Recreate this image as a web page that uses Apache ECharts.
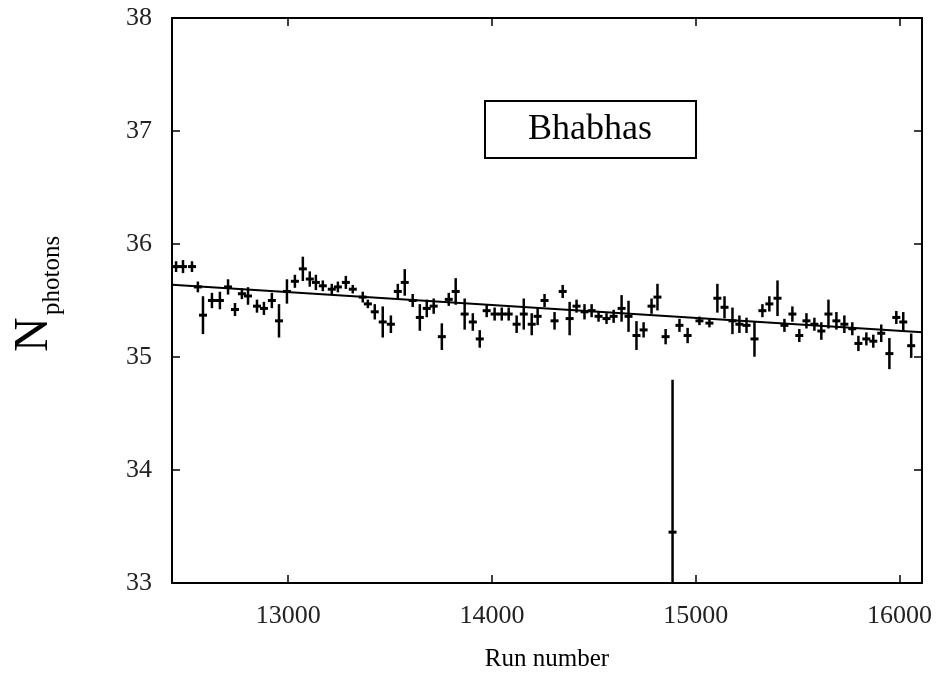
<!DOCTYPE html>
<html>
<head>
<meta charset="utf-8">
<script src="https://cdn.jsdelivr.net/npm/echarts@6/dist/echarts.min.js"></script>
<style>
  html, body { margin: 0; padding: 0; background: #fff; }
  #main { width: 943px; height: 677px; }
</style>
</head>
<body>
<div id="main"></div>
<script>
// run numbers, mean photon count and its error
var runs = [12450, 12484, 12528, 12557, 12582, 12626, 12665, 12705, 12739, 12773,
  12803, 12847, 12881, 12920, 12955, 12994, 13033, 13072, 13106, 13136,
  13170, 13214, 13244, 13283, 13317, 13366, 13391, 13425, 13464, 13504,
  13538, 13572, 13611, 13646, 13680, 13714, 13754, 13788, 13822, 13866,
  13906, 13940, 13974, 14013, 14048, 14082, 14121, 14156, 14195, 14224,
  14258, 14307, 14347, 14381, 14415, 14454, 14489, 14523, 14562, 14597,
  14636, 14670, 14709, 14744, 14783, 14812, 14852, 14886, 14920, 14960,
  15018, 15067, 15106, 15141, 15180, 15214, 15249, 15288, 15327, 15361,
  15401, 15435, 15474, 15508, 15543, 15582, 15616, 15651, 15690, 15729,
  15768, 15798, 15837, 15871, 15910, 15950, 15984, 16018, 16057];
var nPhotons = [35.80, 35.80, 35.80, 35.62, 35.37, 35.50, 35.50, 35.62, 35.42, 35.56,
  35.54, 35.45, 35.43, 35.50, 35.32, 35.58, 35.67, 35.78, 35.69, 35.66,
  35.63, 35.60, 35.62, 35.66, 35.60, 35.53, 35.47, 35.40, 35.31, 35.29,
  35.58, 35.66, 35.50, 35.35, 35.43, 35.45, 35.18, 35.51, 35.58, 35.38,
  35.31, 35.16, 35.41, 35.38, 35.38, 35.38, 35.29, 35.38, 35.29, 35.36,
  35.50, 35.32, 35.58, 35.34, 35.45, 35.40, 35.41, 35.36, 35.34, 35.36,
  35.43, 35.36, 35.19, 35.24, 35.45, 35.53, 35.18, 33.45, 35.28, 35.19,
  35.32, 35.30, 35.52, 35.44, 35.32, 35.29, 35.28, 35.16, 35.41, 35.47,
  35.52, 35.28, 35.38, 35.19, 35.32, 35.29, 35.23, 35.38, 35.32, 35.29,
  35.25, 35.12, 35.16, 35.14, 35.21, 35.03, 35.35, 35.31, 35.10];
var errors = [0.03, 0.04, 0.03, 0.03, 0.15, 0.05, 0.06, 0.05, 0.04, 0.03,
  0.06, 0.04, 0.04, 0.05, 0.13, 0.09, 0.04, 0.09, 0.05, 0.05,
  0.03, 0.03, 0.03, 0.04, 0.02, 0.03, 0.02, 0.05, 0.12, 0.06,
  0.05, 0.10, 0.04, 0.10, 0.06, 0.05, 0.10, 0.04, 0.10, 0.12,
  0.06, 0.06, 0.04, 0.04, 0.04, 0.04, 0.06, 0.12, 0.08, 0.06,
  0.04, 0.06, 0.04, 0.13, 0.04, 0.05, 0.04, 0.03, 0.03, 0.04,
  0.10, 0.12, 0.11, 0.05, 0.05, 0.10, 0.05, 1.33, 0.04, 0.05,
  0.02, 0.02, 0.11, 0.08, 0.10, 0.06, 0.05, 0.14, 0.04, 0.05,
  0.14, 0.04, 0.05, 0.04, 0.05, 0.04, 0.06, 0.11, 0.06, 0.06,
  0.04, 0.05, 0.04, 0.04, 0.06, 0.12, 0.04, 0.07, 0.09];
// straight-line fit drawn across the plot
var fitRuns = [12430, 16110];
var fitValues = [35.64, 35.22];
var xTicks = [13000, 14000, 15000, 16000];

var myChart = echarts.init(document.getElementById('main'));

var points = runs.map(function (r, i) {
  return [r, nPhotons[i], errors[i]];
});

var serif = '"Liberation Serif", "DejaVu Serif", serif';

myChart.setOption({
  animation: false,
  grid: { left: 172, right: 21, top: 18, bottom: 92 },
  xAxis: [{
    type: 'value',
    min: 12430,
    max: 16110,
    position: 'bottom',
    axisLine: { lineStyle: { color: '#000', width: 2 } },
    axisTick: { inside: true, length: 8, customValues: xTicks, lineStyle: { color: '#000', width: 1.5 } },
    axisLabel: {
      customValues: xTicks, margin: 20, fontFamily: serif, fontSize: 26, color: '#222',
      formatter: function (v) { return String(v); }
    },
    splitLine: { show: false },
    name: 'Run number',
    nameLocation: 'middle',
    nameGap: 64,
    nameTextStyle: { fontFamily: serif, fontSize: 25, color: '#000' }
  }, {
    type: 'value',
    min: 12430,
    max: 16110,
    position: 'top',
    axisLine: { lineStyle: { color: '#000', width: 2 } },
    axisTick: { inside: true, length: 8, customValues: xTicks, lineStyle: { color: '#000', width: 1.5 } },
    axisLabel: { show: false },
    splitLine: { show: false }
  }],
  yAxis: [{
    type: 'value',
    min: 33,
    max: 38,
    interval: 1,
    position: 'left',
    axisLine: { show: true, lineStyle: { color: '#000', width: 2 } },
    axisTick: { show: true, inside: true, length: 8, lineStyle: { color: '#000', width: 1.5 } },
    axisLabel: { margin: 20, fontFamily: serif, fontSize: 26, color: '#222' },
    splitLine: { show: false }
  }, {
    type: 'value',
    min: 33,
    max: 38,
    interval: 1,
    position: 'right',
    axisLine: { show: true, lineStyle: { color: '#000', width: 2 } },
    axisTick: { show: true, inside: true, length: 8, lineStyle: { color: '#000', width: 1.5 } },
    axisLabel: { show: false },
    splitLine: { show: false }
  }],
  graphic: [{
    type: 'group',
    left: 484,
    top: 100,
    children: [{
      type: 'rect',
      shape: { x: 0, y: 0, width: 211, height: 57 },
      style: { fill: '#fff', stroke: '#000', lineWidth: 2 }
    }, {
      type: 'text',
      x: 105,
      y: 29,
      style: { text: 'Bhabhas', font: '36px ' + serif, fill: '#000', align: 'center', verticalAlign: 'middle' }
    }]
  }, {
    type: 'group',
    x: 10,
    y: 352,
    rotation: Math.PI / 2,
    children: [{
      type: 'text',
      x: 0,
      y: 0,
      style: { text: 'N', font: '48px ' + serif, fill: '#000', align: 'left', verticalAlign: 'top' }
    }, {
      type: 'text',
      x: 37,
      y: 30,
      style: { text: 'photons', font: '25px ' + serif, fill: '#000', align: 'left', verticalAlign: 'top' }
    }]
  }],
  series: [{
    type: 'line',
    data: fitRuns.map(function (r, i) { return [r, fitValues[i]]; }),
    symbol: 'none',
    lineStyle: { color: '#000', width: 2 },
    z: 2
  }, {
    type: 'custom',
    data: points,
    clip: true,
    encode: { x: 0, y: 1 },
    renderItem: function (params, api) {
      var x = api.value(0), y = api.value(1), e = api.value(2);
      var c = api.coord([x, y]);
      var hi = api.coord([x, y + e]);
      var lo = api.coord([x, y - e]);
      return {
        type: 'group',
        children: [{
          type: 'line',
          shape: { x1: c[0], y1: hi[1] - 2, x2: c[0], y2: lo[1] + 2 },
          style: { stroke: '#000', lineWidth: 2.5 }
        }, {
          type: 'line',
          shape: { x1: c[0] - 4, y1: c[1], x2: c[0] + 4, y2: c[1] },
          style: { stroke: '#000', lineWidth: 3 }
        }]
      };
    },
    z: 3
  }]
});
</script>
</body>
</html>
